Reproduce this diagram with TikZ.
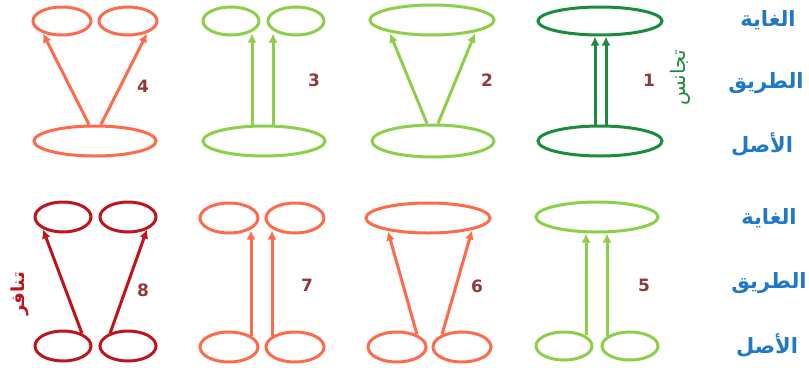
\documentclass[tikz,border=0pt]{standalone}
\usepackage{fontspec}
\usetikzlibrary{shapes.geometric,calc,arrows.meta}
\setmainfont{DejaVu Sans}
\newfontfamily\arabicfont[Script=Arabic]{DejaVu Sans}
\TeXXeTstate=1
\definecolor{dkgreen}{HTML}{1E8A3C}
\definecolor{ltgreen}{HTML}{8CD04A}
\definecolor{salmon}{HTML}{FF6A4A}
\definecolor{dkred}{HTML}{C0141C}
\definecolor{numcol}{HTML}{8E3A3A}
\definecolor{lblblue}{HTML}{1F78C8}
\tikzset{
  ell/.style={draw=#1, ellipse, inner sep=0pt, line width=3pt},
  arr/.style={draw=#1, line width=3pt, -{Latex[length=9pt,width=9pt,fill=#1]}},
  num/.style={font=\fontsize{17}{17}\selectfont\bfseries, text=numcol, inner sep=0pt},
  lbl/.style={font=\arabicfont\fontsize{21}{23}\selectfont\bfseries, text=lblblue, inner sep=0pt},
}
\begin{document}
\begin{tikzpicture}[x=1pt,y=-1pt]
\useasboundingbox (0,0) rectangle (809,367);
% Panel 1
\node[ell=dkgreen, minimum width=124pt, minimum height=28pt] (t1) at (600,21) {};
\node[ell=dkgreen, minimum width=124pt, minimum height=30pt] (b1) at (600,141) {};
\draw[arr=dkgreen] ($(b1.north)+(-5,0)$) -- ($(t1.south)+(-5,0)$);
\draw[arr=dkgreen] ($(b1.north)+(6,0)$) -- ($(t1.south)+(6,0)$);
% Panel 2
\node[ell=ltgreen, minimum width=124pt, minimum height=30pt] (t2) at (432,20) {};
\node[ell=ltgreen, minimum width=122pt, minimum height=32pt] (b2) at (433,141) {};
\draw[arr=ltgreen] ($(b2.north)+(-6,0)$) -- ($(t2.south)+(-42,-3)$);
\draw[arr=ltgreen] ($(b2.north)+(5,0)$) -- ($(t2.south)+(43,-3)$);
% Panel 3
\node[ell=ltgreen, minimum width=56pt, minimum height=28pt] (t3a) at (231,21) {};
\node[ell=ltgreen, minimum width=56pt, minimum height=28pt] (t3b) at (296,21) {};
\node[ell=ltgreen, minimum width=122pt, minimum height=30pt] (b3) at (264,141) {};
\draw[arr=ltgreen] ($(b3.north)+(-12,0)$) -- ($(t3a.south)+(21,-3)$);
\draw[arr=ltgreen] ($(b3.north)+(9,0)$) -- ($(t3b.south)+(-23,-3)$);
% Panel 4
\node[ell=salmon, minimum width=58pt, minimum height=28pt] (t4a) at (62,21) {};
\node[ell=salmon, minimum width=58pt, minimum height=28pt] (t4b) at (128,21) {};
\node[ell=salmon, minimum width=122pt, minimum height=30pt] (b4) at (95,141) {};
\draw[arr=salmon] ($(b4.north)+(-6,0)$) -- ($(t4a.south)+(-19,-3)$);
\draw[arr=salmon] ($(b4.north)+(6,0)$) -- ($(t4b.south)+(19,-3)$);
% Panel 5
\node[ell=ltgreen, minimum width=122pt, minimum height=30pt] (t5) at (597,217) {};
\node[ell=ltgreen, minimum width=56pt, minimum height=28pt] (b5a) at (564,346) {};
\node[ell=ltgreen, minimum width=56pt, minimum height=28pt] (b5b) at (630,346) {};
\draw[arr=ltgreen] ($(b5a.north)+(22,4)$) -- ($(t5.south)+(-11,0)$);
\draw[arr=ltgreen] ($(b5b.north)+(-23,5)$) -- ($(t5.south)+(10,0)$);
% Panel 6
\node[ell=salmon, minimum width=124pt, minimum height=30pt] (t6) at (428,218) {};
\node[ell=salmon, minimum width=58pt, minimum height=30pt] (b6a) at (397,347) {};
\node[ell=salmon, minimum width=58pt, minimum height=30pt] (b6b) at (462,347) {};
\draw[arr=salmon] ($(b6a.north)+(20,4)$) -- ($(t6.south)+(-40,-3)$);
\draw[arr=salmon] ($(b6b.north)+(-20,4)$) -- ($(t6.south)+(44,-4)$);
% Panel 7
\node[ell=salmon, minimum width=58pt, minimum height=30pt] (t7a) at (229,218) {};
\node[ell=salmon, minimum width=58pt, minimum height=30pt] (t7b) at (295,218) {};
\node[ell=salmon, minimum width=58pt, minimum height=30pt] (b7a) at (229,347) {};
\node[ell=salmon, minimum width=58pt, minimum height=30pt] (b7b) at (295,347) {};
\draw[arr=salmon] ($(b7a.north)+(22,5)$) -- ($(t7a.south)+(22,-4)$);
\draw[arr=salmon] ($(b7b.north)+(-23,5)$) -- ($(t7b.south)+(-23,-4)$);
% Panel 8
\node[ell=dkred, minimum width=56pt, minimum height=30pt] (t8a) at (63,217) {};
\node[ell=dkred, minimum width=56pt, minimum height=30pt] (t8b) at (128,217) {};
\node[ell=dkred, minimum width=56pt, minimum height=30pt] (b8a) at (63,346) {};
\node[ell=dkred, minimum width=56pt, minimum height=30pt] (b8b) at (128,346) {};
\draw[arr=dkred] ($(b8a.north)+(19,4)$) -- ($(t8a.south)+(-20,-4)$);
\draw[arr=dkred] ($(b8b.north)+(-18,4)$) -- ($(t8b.south)+(19,-4)$);
% numbers
\node[num] (n1) at (649,80) {1};
\node[num] (n2) at (487,80) {2};
\node[num] (n3) at (314,80) {3};
\node[num] (n4) at (143,86) {4};
\node[num] (n5) at (644,285) {5};
\node[num] (n6) at (477,286) {6};
\node[num] (n7) at (307,285) {7};
\node[num] (n8) at (143,290) {8};
% rotated labels
\node[rotate=90, inner sep=0pt, text=dkgreen, font=\arabicfont\fontsize{20}{20}\selectfont] (tj) at (680,78) {\beginR تجانس\endR};
\node[rotate=90, inner sep=0pt, text=dkred, font=\arabicfont\fontsize{18}{18}\selectfont\bfseries] (tn) at (20,294) {\beginR تنافر\endR};
% right labels
\node[lbl] (g1) at (768,20) {\beginR الغاية\endR};
\node[lbl] (p1) at (766,83) {\beginR الطريق\endR};
\node[lbl] (a1) at (762,145) {\beginR الأصل\endR};
\node[lbl] (g2) at (769,218) {\beginR الغاية\endR};
\node[lbl] (p2) at (769,283) {\beginR الطريق\endR};
\node[lbl] (a2) at (767,346) {\beginR الأصل\endR};
\end{tikzpicture}
\end{document}
